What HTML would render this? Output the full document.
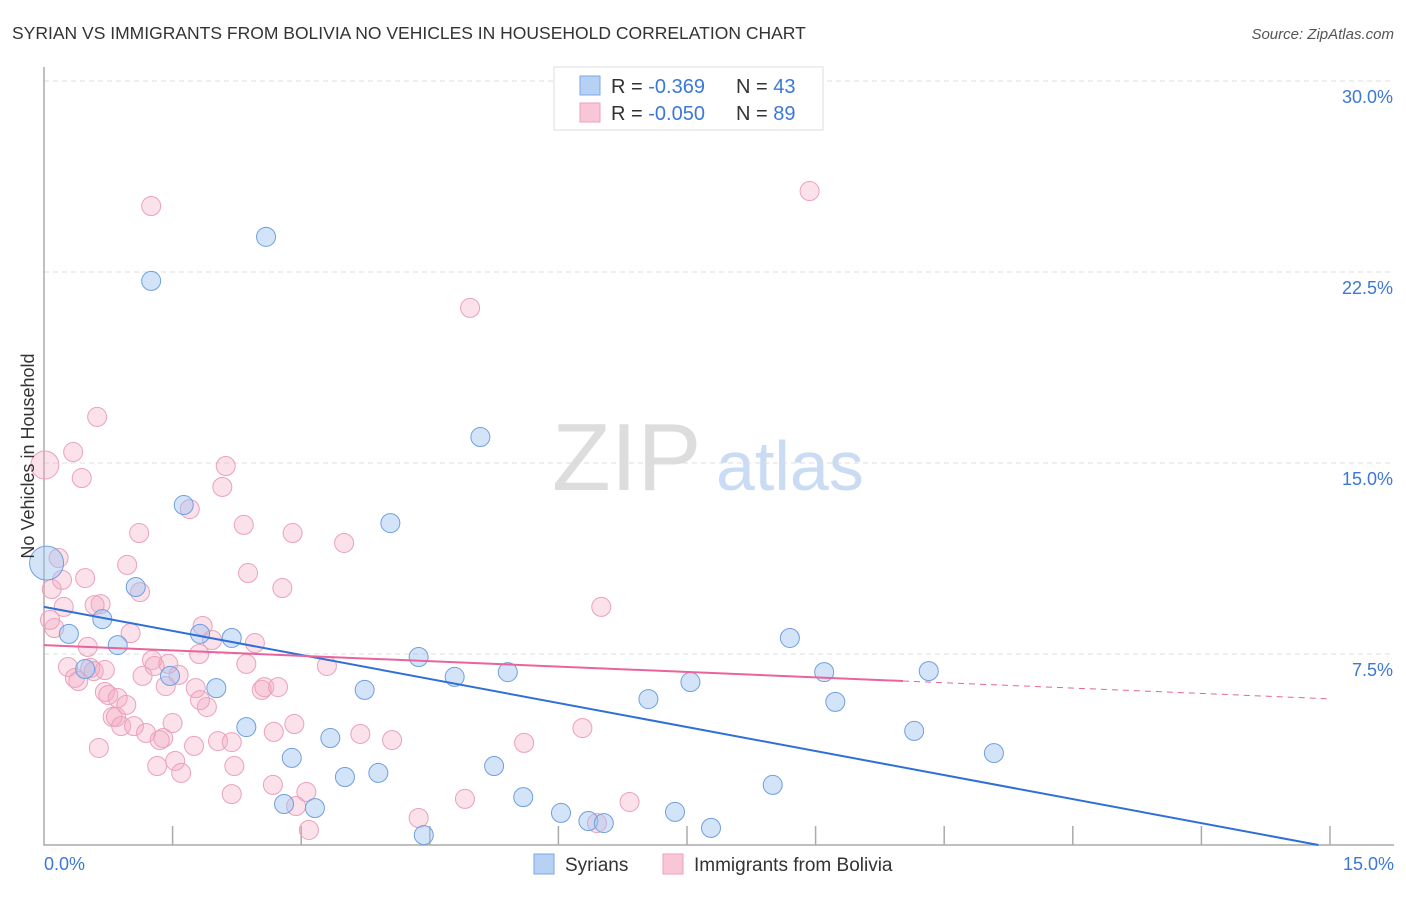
<!DOCTYPE html>
<html><head><meta charset="utf-8"><style>
body{margin:0;background:#fff;font-family:"Liberation Sans",sans-serif}
svg text{font-family:"Liberation Sans",sans-serif}
</style></head><body>
<svg width="1406" height="892" viewBox="0 0 1406 892">
<text x="12" y="39" font-size="17.5" fill="#333">SYRIAN VS IMMIGRANTS FROM BOLIVIA NO VEHICLES IN HOUSEHOLD CORRELATION CHART</text>
<text x="1394" y="39" font-size="15" fill="#555" font-style="italic" text-anchor="end">Source: ZipAtlas.com</text>
<g>
<text x="552" y="490" font-size="96" fill="#ddd" font-family="Liberation Serif,serif">ZIP</text>
<text x="716" y="490" font-size="70" fill="#c9dcf3">atlas</text>
</g>
<g id="grid"></g>
<g id="axes"></g>
<g id="marks"></g>
<text transform="translate(34,456) rotate(-90)" font-size="18" fill="#333" text-anchor="middle">No Vehicles in Household</text>
<g>
<rect x="554" y="67" width="269" height="63" fill="#fff" stroke="#ddd"/>
<rect x="580" y="76" width="20" height="19" fill="#b7d1f5" stroke="#7aa7e6"/>
<rect x="580" y="103" width="20" height="19" fill="#f8c6d6" stroke="#eba1ba"/>
<text x="611" y="93" font-size="20" fill="#333">R = <tspan fill="#3b78d8">-0.369</tspan></text>
<text x="736" y="93" font-size="20" fill="#333">N = <tspan fill="#3b78d8">43</tspan></text>
<text x="611" y="120" font-size="20" fill="#333">R = <tspan fill="#3b78d8">-0.050</tspan></text>
<text x="736" y="120" font-size="20" fill="#333">N = <tspan fill="#3b78d8">89</tspan></text>
</g>
<g>
<rect x="534" y="854" width="20" height="20" fill="#b7d1f5" stroke="#7aa7e6"/>
<text x="565" y="871" font-size="19" fill="#333">Syrians</text>
<rect x="663" y="854" width="20" height="20" fill="#f8c6d6" stroke="#eba1ba"/>
<text x="694" y="871" font-size="19" fill="#333">Immigrants from Bolivia</text>
</g>
</svg>
<script>
const yTicks=[7.5,15,22.5,30];
const yTickLabels=["7.5%","15.0%","22.5%","30.0%"];
const xTicks=[0,1.5,3,4.5,6,7.5,9,10.5,12,13.5,15];
const xEndLabels=["0.0%","15.0%"];
const syrX=[0.03,0.29,0.48,0.68,0.86,1.07,1.25,1.47,1.63,1.82,2.01,2.19,2.36,2.59,2.80,2.89,3.16,3.34,3.51,3.74,3.90,4.04,4.37,4.43,4.79,5.09,5.25,5.41,5.59,6.03,6.35,6.53,7.05,7.36,7.54,7.78,8.50,8.70,9.10,9.23,10.15,10.32,11.08];
const syrY=[11.07,8.29,6.91,8.87,7.85,10.13,22.15,6.64,13.35,8.29,6.16,8.13,4.63,23.88,1.61,3.42,1.45,4.20,2.67,6.09,2.83,12.64,7.38,0.39,6.60,16.02,3.10,6.79,1.88,1.26,0.94,0.86,5.73,1.30,6.40,0.67,2.36,8.13,6.79,5.62,4.48,6.83,3.61];
const bolX=[0.01,0.09,0.12,0.17,0.21,0.23,0.28,0.34,0.36,0.40,0.44,0.48,0.51,0.54,0.58,0.62,0.64,0.66,0.71,0.75,0.80,0.84,0.86,0.90,0.96,0.97,1.01,1.05,1.11,1.12,1.15,1.19,1.25,1.26,1.29,1.32,1.39,1.42,1.45,1.50,1.53,1.57,1.60,1.70,1.75,1.77,1.81,1.85,1.90,1.96,2.03,2.08,2.12,2.19,2.19,2.22,2.33,2.36,2.38,2.46,2.54,2.57,2.68,2.73,2.78,2.67,2.90,2.92,2.94,3.06,3.09,3.30,3.50,3.69,4.06,4.37,4.91,4.97,5.60,6.28,6.45,6.50,6.83,8.93,0.07,0.71,1.35,1.82,0.59];
const bolY=[14.92,10.05,8.52,11.27,10.41,9.35,6.99,15.43,6.56,6.44,14.41,10.48,7.78,6.95,6.83,16.81,3.81,9.46,6.01,5.89,5.03,5.03,5.77,4.67,5.50,11.00,8.32,4.67,12.25,9.93,6.64,4.40,25.09,7.26,7.03,3.10,4.20,6.24,7.11,4.79,3.30,6.68,2.83,13.19,3.89,6.16,7.50,8.60,5.42,8.05,4.08,14.06,14.88,4.04,2.00,3.10,12.57,7.11,10.68,7.93,6.09,6.20,4.44,6.20,10.09,2.36,12.25,4.75,1.53,2.08,0.59,7.03,11.86,4.36,4.12,1.06,1.81,21.09,4.01,4.59,0.86,9.35,1.69,25.68,8.84,6.87,4.12,5.69,9.42];
const syrIntercept=9.35, syrSlope=-0.629;
const bolIntercept=7.85, bolSlope=-0.1407, bolSolidEnd=10.02, bolDashEnd=15;
const NS="http://www.w3.org/2000/svg";
const X0=44,X1=1330,Y0=845;
const xs=v=>X0+v/15*(X1-X0);
const ys=v=>Y0-v*191/7.5;
function mk(parent,tag,attrs){const e=document.createElementNS(NS,tag);for(const k in attrs)e.setAttribute(k,attrs[k]);parent.appendChild(e);return e;}
const grid=document.getElementById('grid'),axes=document.getElementById('axes'),marks=document.getElementById('marks');
yTicks.forEach((t,i)=>{
 const l=mk(grid,'line',{x1:X0,x2:1394,y1:ys(t),y2:ys(t),stroke:'#ddd','stroke-dasharray':'5,4'});
 
 
 const tx=mk(axes,'text',{x:1393,y:ys(t)+22,'font-size':18,fill:'#3b78d8','text-anchor':'end'});
 tx.textContent=yTickLabels[i];
 
 
});
const ax=mk(axes,'path',{d:`M${X0} 67 V${Y0} H1394`,stroke:'#aaa',fill:'none','stroke-width':1.5});


xTicks.forEach(t=>{if(t===0)return;
 const l=mk(axes,'line',{x1:xs(t),x2:xs(t),y1:Y0,y2:Y0-19,stroke:'#aaa','stroke-width':1.5});
 
 
});
[[0,'start',44],[15,'end',1394]].forEach((a,i)=>{
 const tx=mk(axes,'text',{x:a[2],y:870,'font-size':18,fill:'#3b78d8','text-anchor':a[1]});
 tx.textContent=xEndLabels[i];
 
 
});
bolX.forEach((x,i)=>{
 const c=mk(marks,'circle',{cx:xs(x),cy:ys(bolY[i]),r:i===0?14:9.5,fill:'rgba(244,170,196,0.35)',stroke:'#eba1ba','stroke-width':1});
 
 
});
syrX.forEach((x,i)=>{
 const c=mk(marks,'circle',{cx:xs(x),cy:ys(syrY[i]),r:i===0?17:9.5,fill:'rgba(160,196,240,0.45)',stroke:'#6f9fe0','stroke-width':1});
 
 
});
const sEnd=-syrIntercept/syrSlope;
const bl=mk(marks,'line',{x1:xs(0),y1:ys(syrIntercept),x2:xs(sEnd),y2:ys(0),stroke:'#2f6fd6','stroke-width':2});


const pl=mk(marks,'line',{x1:xs(0),y1:ys(bolIntercept),x2:xs(bolSolidEnd),y2:ys(bolIntercept+bolSlope*bolSolidEnd),stroke:'#e8649a','stroke-width':2});


const pd=mk(marks,'line',{x1:xs(bolSolidEnd),y1:ys(bolIntercept+bolSlope*bolSolidEnd),x2:xs(bolDashEnd),y2:ys(bolIntercept+bolSlope*bolDashEnd),stroke:'#e8649a','stroke-width':1,'stroke-dasharray':'6,5'});


</script>
</body></html>
